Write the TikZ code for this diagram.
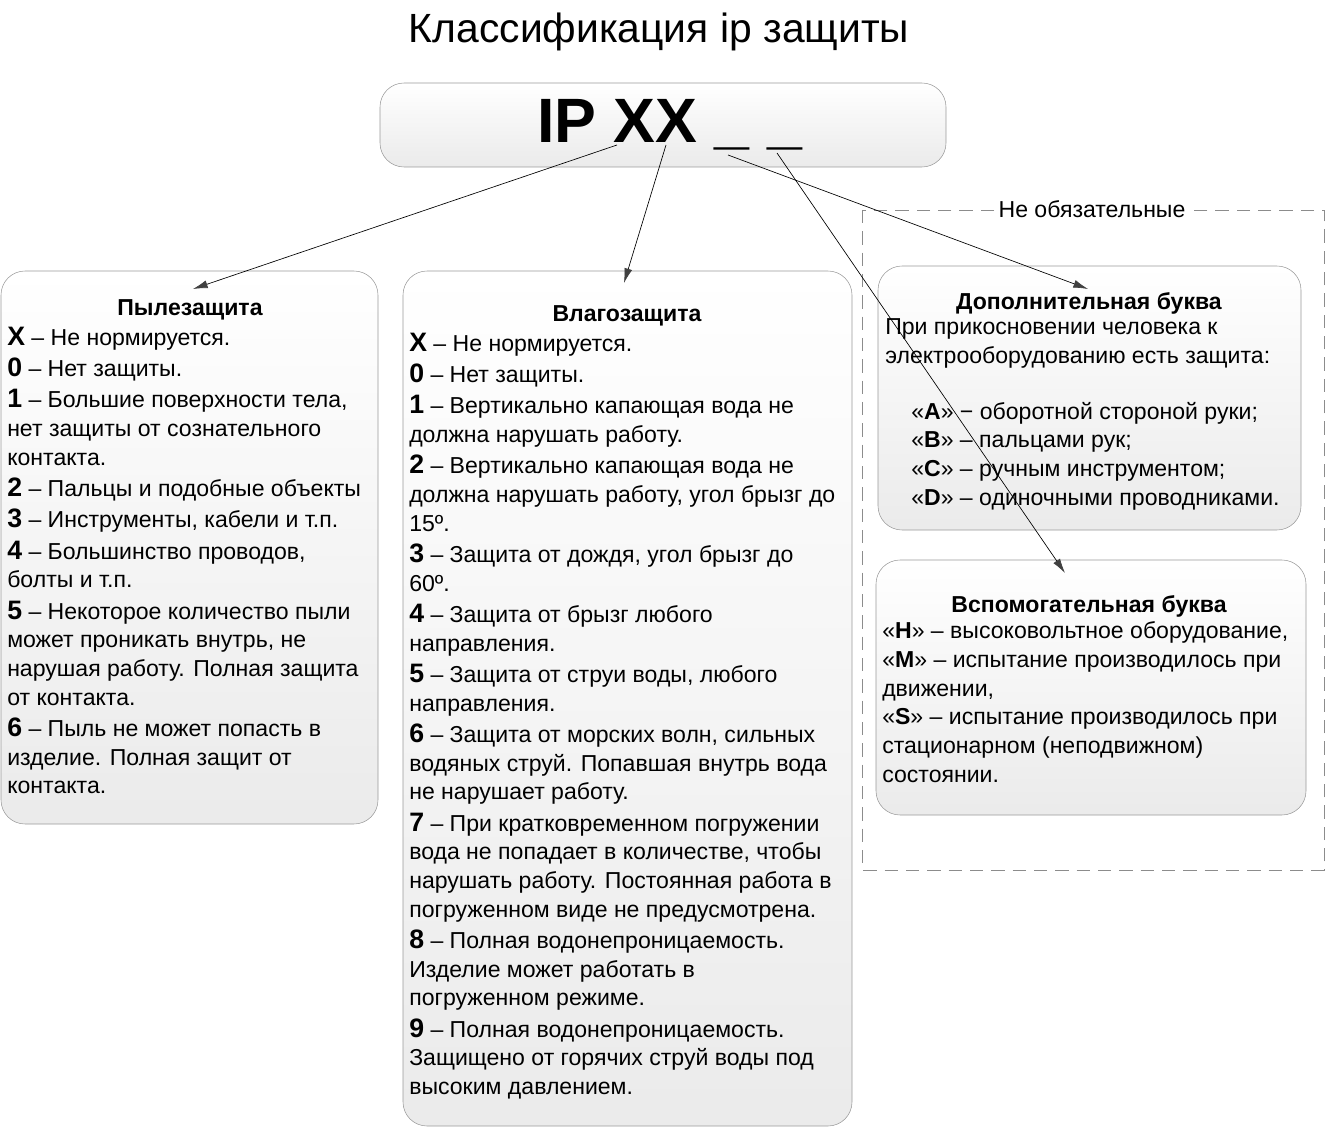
\documentclass[tikz,border=0pt]{standalone}
\usepackage{fontspec}
\setmainfont{Liberation Sans}
\usetikzlibrary{arrows.meta}

\tikzset{
  panel/.style={draw=black!40, rounded corners=18, top color=white, bottom color=black!8},
  link/.style={-{Latex[length=11pt,width=6pt,color=black!75]}, line width=0.5pt},
  body/.style={anchor=north west, align=left, inner sep=0pt, font=\fontsize{17.3}{21.5}\selectfont,
    execute at begin node=\rule{0pt}{16pt}},
  head/.style={anchor=base, inner sep=0pt, font=\fontsize{17.3}{21.5}\selectfont\bfseries},
}
\newcommand{\ipdig}[1]{{\fontsize{20}{21.5}\selectfont\bfseries #1}}

\begin{document}
\begin{tikzpicture}[x=0.75pt,y=-0.75pt]
\useasboundingbox (0,0) rectangle (1328,1130);

% title and code
\node[anchor=base, inner sep=0pt, font=\fontsize{30.6}{36}\selectfont] (title) at (659,43) {Классификация ip защиты};
\draw[panel] (380,83) rectangle (946,167);
\node[anchor=base west, inner sep=0pt, font=\fontsize{47}{50}\selectfont\bfseries] (code) at (537,143) {IP XX \_ \_};

% optional group
\draw[black!45, dash pattern=on 10pt off 6pt] (862,210) rectangle (1324,870);
\node[fill=white, inner sep=3pt, font=\fontsize{17.3}{20}\selectfont] (opt) at (1092,209) {Не обязательные};

% boxes
\draw[panel] (1,271) rectangle (378,824);
\draw[panel] (403,271) rectangle (852,1126);
\draw[panel] (878,266) rectangle (1301,530);
\draw[panel] (876,560) rectangle (1306,815);

% dust
\node[head] (dusthead) at (190,316) {Пылезащита};
\node[body] (dust) at (7,326.7) {%
\ipdig{X} – Не нормируется.\\[2pt]
\ipdig{0} – Нет защиты.\\[2pt]
\ipdig{1} – Большие поверхности тела,\\ нет защиты от сознательного\\ контакта.\\[2pt]
\ipdig{2} – Пальцы и подобные объекты\\[2pt]
\ipdig{3} – Инструменты, кабели и т.п.\\[2pt]
\ipdig{4} – Большинство проводов,\\ болты и т.п.\\[2pt]
\ipdig{5} – Некоторое количество пыли\\ может проникать внутрь, не\\ нарушая работу. Полная защита\\ от контакта.\\[2pt]
\ipdig{6} – Пыль не может попасть в\\ изделие. Полная защит от\\ контакта.};

% water
\node[head] (waterhead) at (627,322) {Влагозащита};
\node[body] (water) at (409,332.7) {%
\ipdig{X} – Не нормируется.\\[2pt]
\ipdig{0} – Нет защиты.\\[2pt]
\ipdig{1} – Вертикально капающая вода не\\ должна нарушать работу.\\[2pt]
\ipdig{2} – Вертикально капающая вода не\\ должна нарушать работу, угол брызг до\\ 15º.\\[2pt]
\ipdig{3} – Защита от дождя, угол брызг до\\ 60º.\\[2pt]
\ipdig{4} – Защита от брызг любого\\ направления.\\[2pt]
\ipdig{5} – Защита от струи воды, любого\\ направления.\\[2pt]
\ipdig{6} – Защита от морских волн, сильных\\ водяных струй. Попавшая внутрь вода\\ не нарушает работу.\\[2pt]
\ipdig{7} – При кратковременном погружении\\ вода не попадает в количестве, чтобы\\ нарушать работу. Постоянная работа в\\ погруженном виде не предусмотрена.\\[2pt]
\ipdig{8} – Полная водонепроницаемость.\\ Изделие может работать в\\ погруженном режиме.\\[2pt]
\ipdig{9} – Полная водонепроницаемость.\\ Защищено от горячих струй воды под\\ высоким давлением.};

% additional letter
\node[head] (addhead) at (1089,310) {Дополнительная буква};
\node[body] (add) at (885,318.7) {При прикосновении человека к\\ электрооборудованию есть защита:};
\node[body] (addlist) at (911,401.7) {%
«\textbf{A}» − оборотной стороной руки;\\
«\textbf{B}» – пальцами рук;\\
«\textbf{C}» – ручным инструментом;\\
«\textbf{D}» – одиночными проводниками.};

% auxiliary letter
\node[head] (auxhead) at (1089,612) {Вспомогательная буква};
\node[body] (aux) at (882,621.7) {%
«\textbf{H}» – высоковольтное оборудование,\\
«\textbf{M}» – испытание производилось при\\ движении,\\
«\textbf{S}» – испытание производилось при\\ стационарном (неподвижном)\\ состоянии.};

% connectors
\coordinate (fromdust) at (617,145);
\coordinate (fromwater) at (666,145);
\coordinate (fromadd) at (728,155);
\coordinate (fromaux) at (777,153);
\coordinate (todust) at (193,289);
\coordinate (towater) at (624,283);
\coordinate (toadd) at (1088,289);
\coordinate (toaux) at (1065,573);
\draw[link] (fromdust) -- (todust);
\draw[link] (fromwater) -- (towater);
\draw[link] (fromadd) -- (toadd);
\draw[link] (fromaux) -- (toaux);
\end{tikzpicture}
\end{document}
